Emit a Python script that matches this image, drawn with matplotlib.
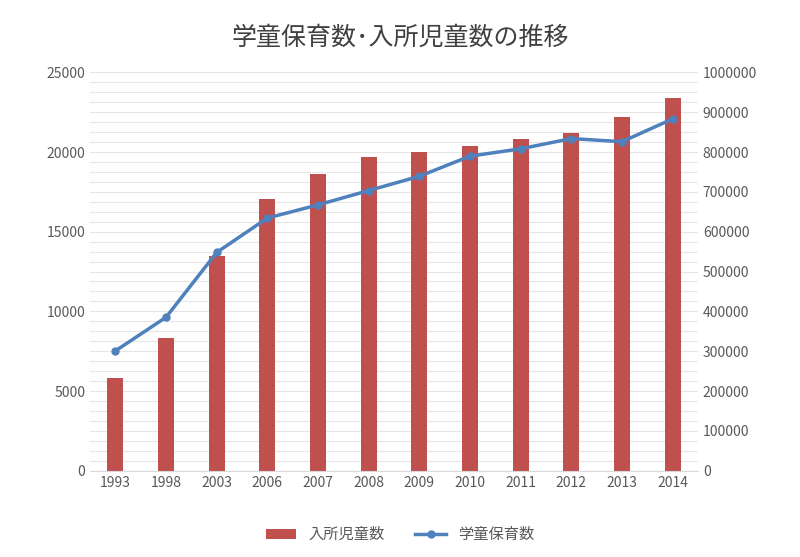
import matplotlib
matplotlib.use("Agg")
import matplotlib.pyplot as plt
import matplotlib.ticker as mticker
import numpy as np

plt.rcParams["font.family"] = "Noto Sans CJK JP"

years = ["1993","1998","2003","2006","2007","2008","2009","2010","2011","2012","2013","2014"]
children = [231500, 333100, 538900, 683100, 744000, 786900, 801400, 814400, 833000, 846900, 889200, 936500]
facilities = [7516, 9627, 13698, 15857, 16685, 17583, 18479, 19744, 20204, 20846, 20650, 22084]

fig = plt.figure(figsize=(8, 5.57), dpi=100)
ax = fig.add_axes([0.1125, 0.155, 0.76, 0.715])
ax2 = ax.twinx()
x = np.arange(len(years))

ax2.bar(x, children, width=0.32, color="#c0504d", label="入所児童数", zorder=2)
ax.plot(x, facilities, color="#4f81bd", lw=2.5, marker="o", ms=5, label="学童保育数", zorder=3)
ax.set_zorder(ax2.get_zorder() + 1)
ax.patch.set_visible(False)

ax.set_ylim(0, 25000)
ax2.set_ylim(0, 1000000)
ax.set_yticks(range(0, 25001, 5000))
ax2.set_yticks(range(0, 1000001, 100000))
ax2.yaxis.set_major_formatter(mticker.FuncFormatter(lambda v, p: f"{int(v)}"))
ax2.set_yticks(np.arange(0, 1000001, 25000), minor=True)
ax2.grid(True, which="both", color="#e6e6e6", lw=0.8, zorder=0)
ax2.tick_params(which="minor", length=0)
ax.set_xticks(x)
ax.set_xticklabels(years)
ax.set_xlim(-0.5, len(years) - 0.5)
for a in (ax, ax2):
    for s in a.spines.values():
        s.set_visible(False)
    a.tick_params(length=0, colors="#595959", labelsize=10)
ax.spines["bottom"].set_visible(True)
ax.spines["bottom"].set_color("#d9d9d9")

fig.suptitle("学童保育数･入所児童数の推移", y=0.955, fontsize=18, color="#404040")
h1, l1 = ax2.get_legend_handles_labels()
h2, l2 = ax.get_legend_handles_labels()
fig.legend(h1 + h2, l1 + l2, loc="lower center", ncol=2, frameon=False,
           bbox_to_anchor=(0.5, 0.0), fontsize=11, labelcolor="#595959")
fig.savefig("out.png", dpi=100)
